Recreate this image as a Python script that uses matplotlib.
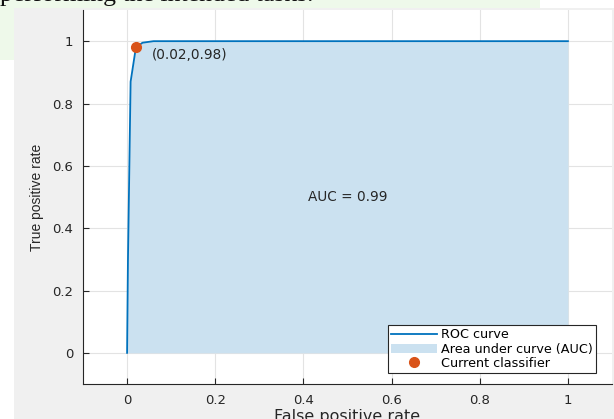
import matplotlib
matplotlib.use("Agg")
import matplotlib.pyplot as plt
from matplotlib.patches import Rectangle

plt.rcParams['font.family'] = ['DejaVu Sans']

# ROC curve data
fpr = [0.0, 0.002, 0.008, 0.02, 0.035, 0.06, 1.0]
tpr = [0.0, 0.30, 0.87, 0.98, 0.995, 1.0, 1.0]
current_point = (0.02, 0.98)
auc_value = 0.99
xticks = [0, 0.2, 0.4, 0.6, 0.8, 1]
yticks = [0, 0.2, 0.4, 0.6, 0.8, 1]

W, H = 614, 419
fig = plt.figure(figsize=(W / 100, H / 100), dpi=100)
fig.patch.set_facecolor('white')

# background decorations (screenshot context)
fig.patches.append(Rectangle((0, 1 - 9 / H), 540 / W, 9 / H, transform=fig.transFigure,
                             facecolor='#eef9ea', edgecolor='none', zorder=-10))
fig.patches.append(Rectangle((0, 1 - 60 / H), 14 / W, 60 / H, transform=fig.transFigure,
                             facecolor='#eef9ea', edgecolor='none', zorder=-10))
fig.patches.append(Rectangle((14 / W, 0), 1 - 14 / W, 1 - 8 / H, transform=fig.transFigure,
                             facecolor='#f0f0f0', edgecolor='none', zorder=-9))
fig.text(0.0, 1 - 0.5 / H, 'performing the intended tasks.', family=['Liberation Serif', 'DejaVu Serif'],
         fontsize=18.5, va='baseline', ha='left', color='#111111', zorder=-8)

ax = fig.add_axes([83 / W, 1 - 384 / H, (612 - 83) / W, (384 - 10) / H])
ax.set_zorder(1)
ax.set_facecolor('white')

ax.fill_between(fpr, tpr, 0, color='#cbe1f0', linewidth=0, label='Area under curve (AUC)', zorder=2)
ax.plot(fpr, tpr, color='#0072BD', linewidth=1.3, label='ROC curve', zorder=3)
ax.plot([current_point[0]], [current_point[1]], 'o', color='#D95319', markersize=7,
        label='Current classifier', zorder=4)

ax.text(current_point[0] + 0.036, current_point[1] - 0.025,
        '(%.2f,%.2f)' % current_point, fontsize=9.8, color='#262626', va='center', ha='left', zorder=5)
ax.text(0.5, 0.5, 'AUC = %.2f' % auc_value, fontsize=9.8, color='#262626', ha='center', va='center', zorder=5)

ax.set_xlim(-0.1, 1.1)
ax.set_ylim(-0.1, 1.1)
ax.set_xticks(xticks)
ax.set_yticks(yticks)
ax.set_xticklabels(['0', '0.2', '0.4', '0.6', '0.8', '1'])
ax.set_yticklabels(['0', '0.2', '0.4', '0.6', '0.8', '1'])
ax.grid(True, color='#e3e3e3', linewidth=0.8, zorder=0)
ax.set_axisbelow(True)
for s in ['top', 'right']:
    ax.spines[s].set_visible(False)
for s in ['left', 'bottom']:
    ax.spines[s].set_color('#262626')
    ax.spines[s].set_linewidth(0.8)
ax.tick_params(direction='in', length=4, width=0.8, colors='#262626', labelsize=9.5,
               labelcolor='#262626', pad=7)
ax.set_xlabel('False positive rate', fontsize=11.5, color='#262626')
ax.xaxis.set_label_coords(0.5, (384 - 409) / 374)
ax.set_ylabel('True positive rate', fontsize=10, color='#262626',
              family=['Liberation Sans', 'DejaVu Sans'])
ax.yaxis.set_label_coords((44 - 83) / 529, 0.5)

h, l = ax.get_legend_handles_labels()
order = [l.index('ROC curve'), l.index('Area under curve (AUC)'), l.index('Current classifier')]
leg = ax.legend([h[i] for i in order], [l[i] for i in order], loc='lower right',
                bbox_to_anchor=(0.970, 0.029), fontsize=9.2, frameon=True, fancybox=False,
                framealpha=1, edgecolor='#262626', borderpad=0.25, labelspacing=0.1,
                handlelength=3.6, handletextpad=0.3, borderaxespad=0)
leg.get_frame().set_linewidth(0.8)

fig.savefig('out.png', dpi=100)
